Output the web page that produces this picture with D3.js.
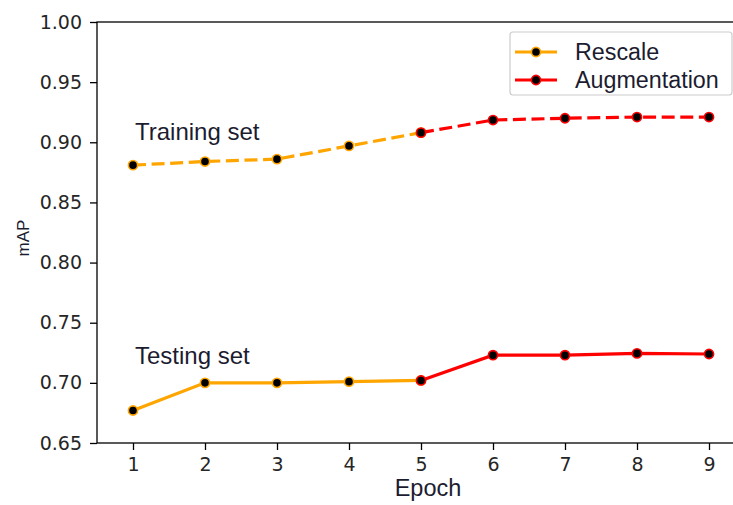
<!DOCTYPE html>
<html>
<head>
<meta charset="utf-8">
<script src="https://cdn.jsdelivr.net/npm/d3@7"></script>
<style>
  html, body { margin: 0; padding: 0; background: #fff; }
  svg { display: block; font-family: "Liberation Sans", Arial, sans-serif; }
</style>
</head>
<body>
<svg id="chart" width="733" height="505"></svg>
<script>
// Epochs on the x axis
const epochsRescale = [1, 2, 3, 4, 5];
const epochsAug = [5, 6, 7, 8, 9];
const xTicks = [1, 2, 3, 4, 5, 6, 7, 8, 9];
const yTicks = [0.65, 0.70, 0.75, 0.80, 0.85, 0.90, 0.95, 1.00];

// mAP values
const trainRescale = [0.881, 0.884, 0.886, 0.897, 0.908];
const trainAug = [0.908, 0.9185, 0.920, 0.921, 0.921];
const testRescale = [0.677, 0.700, 0.700, 0.701, 0.702];
const testAug = [0.702, 0.723, 0.723, 0.7245, 0.724];

const seriesNames = ["Rescale", "Augmentation"];
const seriesColors = ["#ffa500", "#ff0000"];
const textColor = "#1c1c30";

const svg = d3.select("#chart");
const plotLeft = 97, plotRight = 745, plotTop = 22, plotBottom = 443;

const x = d3.scaleLinear().domain([0.5, 9.5]).range([plotLeft, plotRight]);
const y = d3.scaleLinear().domain([0.65, 1.0]).range([plotBottom, plotTop]);

// Axes
const xAxis = d3.axisBottom(x).tickValues(xTicks).tickFormat(d3.format("d")).tickSize(7).tickPadding(8);
const yAxis = d3.axisLeft(y).tickValues(yTicks).tickFormat(d3.format(".2f")).tickSize(7).tickPadding(8);

const gx = svg.append("g").attr("transform", `translate(0,${plotBottom})`).call(xAxis);
const gy = svg.append("g").attr("transform", `translate(${plotLeft},0)`).call(yAxis);
[gx, gy].forEach(g => {
  g.select(".domain").remove();
  g.selectAll(".tick line").attr("stroke", "#000").attr("stroke-width", 1.3);
  g.selectAll(".tick text").attr("fill", "#262626").style("font-size", "19px").style("font-family", "DejaVu Sans");
});

// Spines
svg.append("rect")
  .attr("x", plotLeft).attr("y", plotTop)
  .attr("width", plotRight - plotLeft).attr("height", plotBottom - plotTop)
  .attr("fill", "none").attr("stroke", "#000").attr("stroke-width", 1.3);

// Axis labels
svg.append("text").attr("x", 428).attr("y", 496)
  .attr("text-anchor", "middle").style("font-size", "23.5px").attr("fill", textColor).text("Epoch");
svg.append("text").attr("transform", `translate(29,238) rotate(-90)`)
  .attr("text-anchor", "middle").style("font-size", "17px").attr("fill", textColor).text("mAP");

const line = d3.line().x(d => x(d[0])).y(d => y(d[1]));

function drawSeries(xs, ys, color, dashed) {
  const pts = xs.map((e, i) => [e, ys[i]]);
  svg.append("path").datum(pts)
    .attr("d", line).attr("fill", "none")
    .attr("stroke", color).attr("stroke-width", 3.2)
    .attr("stroke-dasharray", dashed ? "13,5.6" : null);
  svg.append("g").selectAll("circle").data(pts).join("circle")
    .attr("cx", d => x(d[0])).attr("cy", d => y(d[1])).attr("r", 4.6)
    .attr("fill", "#000").attr("stroke", color).attr("stroke-width", 1.6);
}

drawSeries(epochsRescale, trainRescale, seriesColors[0], true);
drawSeries(epochsAug, trainAug, seriesColors[1], true);
drawSeries(epochsRescale, testRescale, seriesColors[0], false);
drawSeries(epochsAug, testAug, seriesColors[1], false);

// Annotations
svg.append("text").attr("x", 135).attr("y", 139.5).style("font-size", "24px").attr("fill", textColor).text("Training set");
svg.append("text").attr("x", 135).attr("y", 364).style("font-size", "24px").attr("fill", textColor).text("Testing set");

// Legend
const lg = svg.append("g");
lg.append("rect").attr("x", 510).attr("y", 32).attr("width", 222).attr("height", 63).attr("rx", 3)
  .attr("fill", "#fff").attr("fill-opacity", 0.8).attr("stroke", "#cccccc").attr("stroke-width", 1.2);
seriesNames.forEach((name, i) => {
  const yy = 52 + i * 28;
  lg.append("line").attr("x1", 515).attr("x2", 557).attr("y1", yy).attr("y2", yy)
    .attr("stroke", seriesColors[i]).attr("stroke-width", 3.2);
  lg.append("circle").attr("cx", 536).attr("cy", yy).attr("r", 4.6)
    .attr("fill", "#000").attr("stroke", seriesColors[i]).attr("stroke-width", 1.6);
  lg.append("text").attr("x", 575).attr("y", yy + 7.5).style("font-size", "23.3px").attr("fill", textColor).text(name);
});
</script>
</body>
</html>
